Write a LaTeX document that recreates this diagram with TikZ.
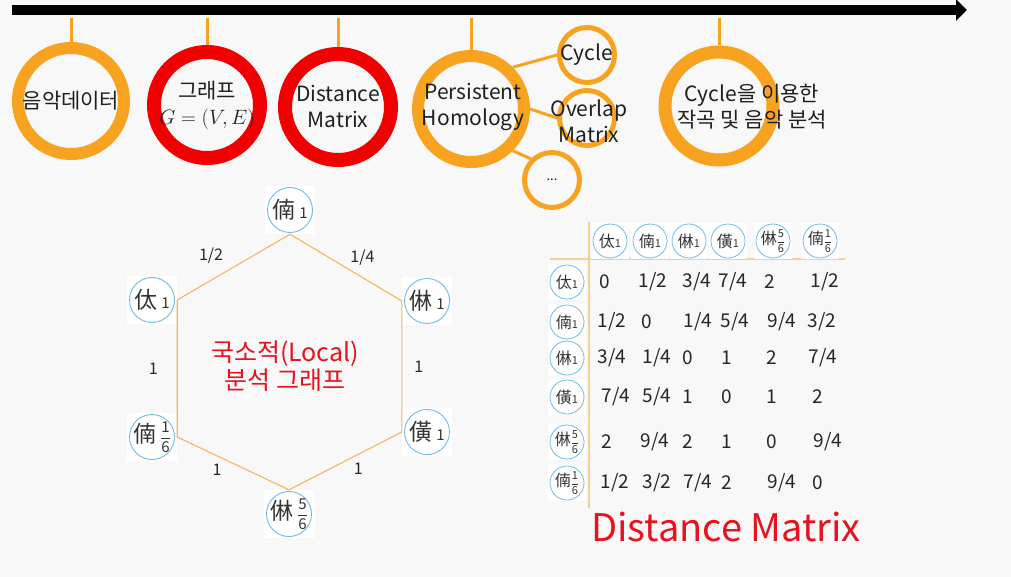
\documentclass[tikz,border=0pt]{standalone}
\usepackage{amsmath}
\usepackage{fontspec}
\setmainfont{Noto Sans CJK KR}
\usetikzlibrary{arrows.meta,positioning}

\definecolor{paper}{RGB}{248,248,248}
\definecolor{ringorange}{RGB}{247,163,32}
\definecolor{ringred}{RGB}{240,0,0}
\definecolor{titlered}{RGB}{232,18,30}
\definecolor{noteblue}{RGB}{112,186,226}
\definecolor{edgeorange}{RGB}{244,182,96}
\definecolor{ruletan}{RGB}{242,208,150}

% yulmyeong with its octave mark
\newcommand{\yul}[2]{#1\,{\fontsize{15}{15}\selectfont #2}}
\newcommand{\syul}[2]{#1{\fontsize{11}{11}\selectfont #2}}
\newcommand{\oct}[2]{$\dfrac{\text{#1}}{\text{#2}}$}

\begin{document}
\begin{tikzpicture}[x=1pt, y=-1pt,
    ring/.style={circle, draw=ringorange, line width=12pt, fill=paper,
        minimum size=106pt, inner sep=0pt},
    redring/.style={ring, draw=ringred, line width=14pt},
    smallring/.style={ring, line width=5pt, minimum size=55pt},
    ringtext/.style={align=center, text=black!88, font=\fontsize{21}{26}\selectfont},
    timeline/.style={line width=10pt, -{Triangle[length=11pt, width=21pt]}},
    stem/.style={draw=ringorange, line width=3pt},
    branch/.style={draw=ringorange, line width=3pt},
    note/.style={rectangle, fill=white, minimum width=50pt, minimum height=48pt,
        inner sep=0pt, text=black!80, font=\fontsize{23}{23}\selectfont,
        path picture={\draw[noteblue, line width=0.9pt]
            (path picture bounding box.center) circle[radius=22.5pt];}},
    smallnote/.style={note, minimum width=38pt, minimum height=36pt,
        font=\fontsize{16}{16}\selectfont,
        path picture={\draw[noteblue, line width=0.8pt]
            (path picture bounding box.center) circle[radius=17pt];}},
    hexedge/.style={draw=edgeorange, line width=1.1pt},
    wlabel/.style={inner sep=0pt, text=black!85, font=\fontsize{16}{16}\selectfont},
    cell/.style={inner sep=0pt, text=black!85, font=\fontsize{19}{19}\selectfont},
    matrule/.style={draw=ruletan, line width=2pt},
    redtext/.style={align=center, text=titlered, font=\fontsize{25}{28}\selectfont}
]
\useasboundingbox[fill=paper] (0,0) rectangle (1011,577);

% time line
\coordinate (tl-start) at (12,10);
\coordinate (tl-end) at (967,10);
\draw[timeline] (tl-start) -- (tl-end);

% stages along the time line
\node[ring] (music) at (71,101) {};
\node[redring] (graph) at (207,105) {};
\node[redring] (distm) at (338,107) {};
\node[ring] (persist) at (471,109) {};
\node[smallring] (cycle) at (587,55) {};
\node[smallring] (overlap) at (587,118) {};
\node[smallring] (etc) at (552,180) {};
\node[ring, line width=13pt, minimum size=108pt] (compose) at (719,106) {};

\node[ringtext] (music-t) at (music) {음악데이터};
\node[ringtext] (graph-t) at (graph) {그래프\\$G=(V,E)$};
\node[ringtext] (distm-t) at (distm) {Distance\\Matrix};
\node[ringtext] (persist-t) at (473,107) {Persistent\\Homology};
\node[ringtext] (cycle-t) at (cycle) {Cycle};
\node[ringtext] (overlap-t) at (589,121) {Overlap\\Matrix};
\node[ringtext, font=\fontsize{13}{13}\selectfont] (etc-t) at (etc) {...};
\node[ringtext] (compose-t) at (752,107) {Cycle을 이용한\\작곡 및 음악 분석};

\coordinate (s-music) at (71,18);
\coordinate (s-graph) at (207,18);
\coordinate (s-distm) at (338,18);
\coordinate (s-persist) at (471,18);
\coordinate (s-compose) at (719,18);
\draw[stem] (s-music) -- (music);
\draw[stem] (s-graph) -- (graph);
\draw[stem] (s-distm) -- (distm);
\draw[stem] (s-persist) -- (persist);
\draw[stem] (s-compose) -- (compose);

\draw[branch] (persist.45) -- (cycle.west);
\draw[branch] (persist.east) -- (overlap.west);
\draw[branch] (persist.-45) -- (etc.135);

% local graph
\node[note] (n-nam) at (290,210) {\yul{㑲}{1}};
\node[note] (n-tae) at (152,300) {\yul{㑀}{1}};
\node[note] (n-rim) at (427,301) {\yul{㑣}{1}};
\node[note] (n-hwang) at (427,432) {\yul{僙}{1}};
\node[note] (n-nam6) at (152,437) {\yul{㑲}{\oct{1}{6}}};
\node[note] (n-rim56) at (289,514) {\yul{㑣}{\oct{5}{6}}};

\draw[hexedge] (n-tae.east)
    -- node[wlabel, above left=3pt and 10pt] (w-a) {1/2} (n-nam.south)
    -- node[wlabel, above right=2pt and 4pt] (w-b) {1/4} (n-rim.west)
    -- node[wlabel, right=12pt] (w-c) {1} (n-hwang.west)
    -- node[wlabel, below right=2pt and 8pt] (w-d) {1} (n-rim56.north)
    -- node[wlabel, below left=0pt and 11pt] (w-e) {1} (n-nam6.east)
    -- node[wlabel, left=19pt] (w-f) {1} (n-tae.east);

\node[redtext] (local-t) at (285,366) {국소적(Local)\\분석 그래프};

% distance matrix
\coordinate (rule-w) at (550,259);
\coordinate (rule-e) at (845,259);
\coordinate (rule-n) at (589,222);
\coordinate (rule-s) at (589,508);
\draw[matrule] (rule-w) -- (rule-e);
\draw[matrule] (rule-n) -- (rule-s);

\node[smallnote] (c1) at (610,241) {\syul{㑀}{1}};
\node[smallnote] (c2) at (650,241) {\syul{㑲}{1}};
\node[smallnote] (c3) at (689,241) {\syul{㑣}{1}};
\node[smallnote] (c4) at (728,241) {\syul{僙}{1}};
\node[smallnote] (c5) at (773,241) {\syul{㑣}{\oct{5}{6}}};
\node[smallnote] (c6) at (820,241) {\syul{㑲}{\oct{1}{6}}};

\node[smallnote] (r1) at (567,282) {\syul{㑀}{1}};
\node[smallnote] (r2) at (567,322) {\syul{㑲}{1}};
\node[smallnote] (r3) at (567,358) {\syul{㑣}{1}};
\node[smallnote] (r4) at (567,397) {\syul{僙}{1}};
\node[smallnote] (r5) at (567,442) {\syul{㑣}{\oct{5}{6}}};
\node[smallnote] (r6) at (567,483) {\syul{㑲}{\oct{1}{6}}};

\foreach \y/\row [count=\r] in {
    282/{605/0, 653/{1/2}, 697/{3/4}, 733/{7/4}, 770/2, 825/{1/2}},
    322/{612/{1/2}, 647/0, 698/{1/4}, 735/{5/4}, 782/{9/4}, 822/{3/2}},
    358/{612/{3/4}, 657/{1/4}, 688/0, 727/1, 772/2, 823/{7/4}},
    397/{616/{7/4}, 657/{5/4}, 688/1, 727/0, 772/1, 818/2},
    442/{607/2, 655/{9/4}, 688/2, 727/1, 772/0, 828/{9/4}},
    483/{615/{1/2}, 657/{3/2}, 698/{7/4}, 727/2, 782/{9/4}, 818/0}}
    \foreach \x/\v [count=\c] in \row
        \node[cell] (m-\r-\c) at (\x,\y) {\v};

\node[redtext, font=\fontsize{38}{38}\selectfont] (dm-title) at (726,527) {Distance Matrix};
\end{tikzpicture}
\end{document}
